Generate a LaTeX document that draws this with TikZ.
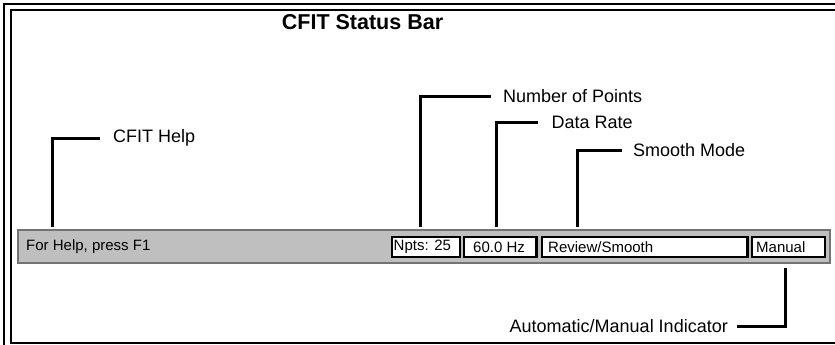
\documentclass[tikz,border=0pt]{standalone}
\usepackage{fontspec}
\setmainfont{Liberation Sans}
\begin{document}
\begin{tikzpicture}[x=1pt,y=-1pt,
  frameline/.style={line width=2pt,black},
  conn/.style={line width=3pt,black},
  barst/.style={draw=black!55,fill=black!25,line width=1.5pt},
  boxst/.style={draw=black,fill=white,line width=1.2pt,minimum height=20.5pt,inner sep=0pt,double=white,double distance=0pt},
  bartext/.style={font=\fontsize{15}{15}\selectfont,inner sep=0pt,anchor=west},
  lbl/.style={font=\fontsize{18}{18}\selectfont,inner sep=0pt},
  ttl/.style={font=\bfseries\fontsize{21.5}{21.5}\selectfont,inner sep=0pt}]
\useasboundingbox (0,0) rectangle (835,345);
% frame
\draw[frameline] (4,345) -- (4,4.5) -- (835,4.5);
\draw[frameline] (11,343) -- (11,10) -- (835,10);
\draw[frameline] (10,343) -- (835,343);
% title
\node[ttl] (title) at (362.5,22) {CFIT Status Bar};
% status bar
\node[barst,minimum width=812pt,minimum height=33pt,inner sep=0pt] (bar) at (424,246.5) {};
\node[bartext] (help) at (26,246.5) {For Help, press F1};
\node[boxst,minimum width=68pt] (npts) at (426,247) {};
\node[bartext] at (393.5,247) {Npts: 25};
\node[boxst,minimum width=72.5pt] (rate) at (500.25,247) {};
\node[bartext] at (473,247) {60.0 Hz};
\node[boxst,minimum width=205.5pt] (mode) at (644.75,247) {};
\node[bartext] at (548,247) {Review/Smooth};
\node[boxst,minimum width=73pt] (man) at (788.5,247) {};
\node[bartext] at (756,247) {Manual};
% labels
\node[lbl,anchor=west] (lhelp) at (113,138) {CFIT Help};
\node[lbl,anchor=west] (lnp) at (503,96) {Number of Points};
\node[lbl,anchor=west] (lrate) at (551.5,122) {Data Rate};
\node[lbl,anchor=west] (lmode) at (633,150) {Smooth Mode};
\node[lbl,anchor=east] (lman) at (728,326) {Automatic/Manual Indicator};
% connector ends
\coordinate (chelp) at (52,227);
\coordinate (cnp) at (420,227);
\coordinate (crate) at (496,227);
\coordinate (cmode) at (577.7,227);
\coordinate (cman) at (785,268);
% connectors
\draw[conn] (chelp) |- ([xshift=-13pt]lhelp.west);
\draw[conn] (cnp) |- ([xshift=-12pt]lnp.west);
\draw[conn] (crate) |- ([xshift=-13.5pt]lrate.west);
\draw[conn] (cmode) |- ([xshift=-11.5pt]lmode.west);
\draw[conn] (cman) |- ([xshift=8.5pt]lman.east);
\end{tikzpicture}
\end{document}
